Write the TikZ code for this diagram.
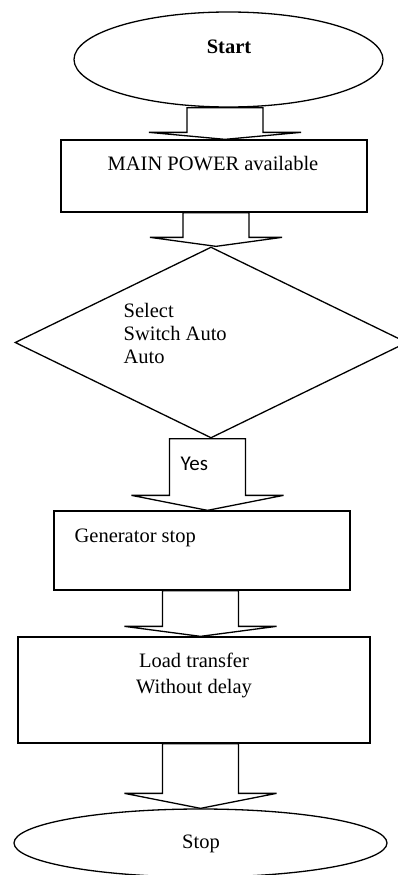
\documentclass[tikz,border=0pt]{standalone}
\usepackage{fontspec}
\setmainfont{Liberation Serif}
\newfontfamily\yesfont{Carlito}
\usetikzlibrary{shapes.geometric,calc}
\newcommand{\flowarrow}[5][38]{%
\path (#2.south -| #4,0) coordinate (ftop) (#3.north -| #4,0) coordinate (ftip);
\draw[flow] ($(ftop)+(-#1,0)$) -- ($(ftop)+(#1,0)$) -- ($(ftip)+(#1,-#5)$) -- ($(ftip)+(2*#1,-#5)$) -- (ftip) -- ($(ftip)+(-2*#1,-#5)$) -- ($(ftip)+(-#1,-#5)$) -- cycle;
}

\begin{document}
\begin{tikzpicture}[x=1pt,y=-1pt,line width=1.3pt,
  font=\fontsize{20.5}{23}\selectfont,
  terminal/.style={draw,ellipse,inner sep=0pt},
  process/.style={draw,rectangle,inner sep=0pt},
  decision/.style={draw,diamond,inner sep=0pt,aspect=2},
  words/.style={inner sep=0pt},
  flow/.style={draw,line width=1.3pt}]
\useasboundingbox (0,0) rectangle (398,875);

\node[terminal,minimum width=309pt,minimum height=95pt] (start) at (228.5,59.5) {};
\node[words,anchor=base] (start-text) at (229,53) {\textbf{Start}};

\node[process,minimum width=306pt,minimum height=72pt] (power) at (214,176) {};
\node[words,anchor=base] (power-text) at (213,170) {MAIN POWER available};

\node[decision,minimum width=392pt,minimum height=191pt] (select) at (211,342.5) {};
\node[words,anchor=north west,align=left] (select-text) at (123,303) {Select\\Switch Auto\\Auto};

\node[process,minimum width=296pt,minimum height=79pt] (genstop) at (202,550.5) {};
\node[words,anchor=base west] (genstop-text) at (74,542) {Generator stop};

\node[process,minimum width=352pt,minimum height=106pt] (transfer) at (194,690) {};
\node[words,anchor=north,align=center] (transfer-text) at (194,652) {Load transfer\\[3pt]Without delay};

\node[terminal,minimum width=373pt,minimum height=68pt] (stop) at (200.5,843) {};
\node[words,anchor=base] (stop-text) at (201,848) {Stop};

\flowarrow{start}{power}{225}{7}
\flowarrow[33]{power}{select}{216}{9}
\flowarrow{select}{genstop}{207.5}{15}
\node[words,anchor=base west,font=\yesfont\fontsize{21}{25}\selectfont] (yes-text) at (180,470) {Yes};
\flowarrow{genstop}{transfer}{200.5}{10}
\flowarrow{transfer}{stop}{200.5}{15}
\end{tikzpicture}
\end{document}
